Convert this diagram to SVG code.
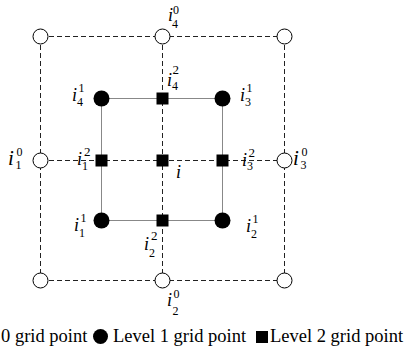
<svg xmlns="http://www.w3.org/2000/svg" width="406" height="358" viewBox="0 0 406 358">
<style>
.dash{stroke:#222;stroke-width:1;stroke-dasharray:5,3;fill:none}
.dot{stroke:#111;stroke-width:1;stroke-dasharray:1,1;fill:none}
.l0{fill:#fff;stroke:#000;stroke-width:1}
.l1{fill:#000}
.l2{fill:#000}
.i{font-family:"Liberation Serif",serif;font-style:italic;font-size:18px;fill:#000}
.big{font-size:21px}
.d{font-family:"Liberation Serif",serif;font-size:12px;fill:#000}
.db{font-size:13px}
.lg{font-family:"Liberation Serif",serif;font-size:18.5px;fill:#000}
</style>
<rect width="406" height="358" fill="#fff"/>
<g id="connectors">
<line class="dash" x1="41" y1="36.5" x2="284" y2="36.5"/>
<line class="dash" x1="41" y1="280.5" x2="284" y2="280.5"/>
<line class="dash" x1="40.5" y1="37" x2="40.5" y2="281"/>
<line class="dash" x1="284.5" y1="37" x2="284.5" y2="281"/>
<line class="dash" x1="41" y1="160.5" x2="284" y2="160.5"/>
<line class="dash" x1="162.5" y1="37" x2="162.5" y2="281"/>
<line class="dot" x1="101.5" y1="98.5" x2="222.5" y2="98.5"/>
<line class="dot" x1="101.5" y1="220.5" x2="222.5" y2="220.5"/>
<line class="dot" x1="101.5" y1="98.5" x2="101.5" y2="220.5"/>
<line class="dot" x1="222.5" y1="98.5" x2="222.5" y2="220.5"/>
</g>
<g id="n-tl"><circle class="l0" cx="40.5" cy="36.5" r="7.5"/></g>
<g id="n-i40"><circle class="l0" cx="162.5" cy="36.5" r="7.5"/><text class="i" x="168" y="21">i</text><text class="d" x="173" y="14">0</text><text class="d" x="172" y="28">4</text></g>
<g id="n-tr"><circle class="l0" cx="284.5" cy="36.5" r="7.5"/></g>
<g id="n-i10"><circle class="l0" cx="40.5" cy="160.5" r="7.5"/><text class="i big" x="8" y="165">i</text><text class="d" x="16.5" y="156">0</text><text class="d" x="15.5" y="169">1</text></g>
<g id="n-i30"><circle class="l0" cx="284.5" cy="160.5" r="7.5"/><text class="i big" x="293" y="165">i</text><text class="d" x="301.5" y="156">0</text><text class="d" x="300.5" y="169">3</text></g>
<g id="n-bl"><circle class="l0" cx="40.5" cy="280.5" r="7.5"/></g>
<g id="n-i20"><circle class="l0" cx="162.5" cy="280.5" r="7.5"/><text class="i" x="167" y="306">i</text><text class="d" x="173.5" y="298">0</text><text class="d" x="172.5" y="315">2</text></g>
<g id="n-br"><circle class="l0" cx="284.5" cy="280.5" r="7.5"/></g>
<g id="n-i41"><circle class="l1" cx="101.5" cy="98.5" r="8"/><text class="i" x="72" y="101">i</text><text class="d" x="78.5" y="92">1</text><text class="d" x="77" y="106">4</text></g>
<g id="n-i31"><circle class="l1" cx="222.5" cy="98.5" r="8"/><text class="i" x="240" y="101">i</text><text class="d" x="246.5" y="92">1</text><text class="d" x="245" y="106">3</text></g>
<g id="n-i11"><circle class="l1" cx="101.5" cy="220.5" r="8"/><text class="i" x="74" y="231">i</text><text class="d" x="80.5" y="222">1</text><text class="d" x="79" y="237">1</text></g>
<g id="n-i21"><circle class="l1" cx="222.5" cy="220.5" r="8"/><text class="i" x="246" y="232">i</text><text class="d" x="252.5" y="223">1</text><text class="d" x="251" y="238">2</text></g>
<g id="n-i42"><rect class="l2" x="156.5" y="92.5" width="12" height="12"/><text class="i" x="167" y="86">i</text><text class="d db" x="172.5" y="74">2</text><text class="d" x="172" y="90">4</text></g>
<g id="n-i12"><rect class="l2" x="95.5" y="154.5" width="12" height="12"/><text class="i" x="77" y="165">i</text><text class="d db" x="84" y="156">2</text><text class="d" x="82" y="170">1</text></g>
<g id="n-i"><rect class="l2" x="156.5" y="154.5" width="12" height="12"/><text class="i" x="176" y="178">i</text></g>
<g id="n-i32"><rect class="l2" x="216.5" y="154.5" width="12" height="12"/><text class="i" x="242" y="166">i</text><text class="d db" x="248.5" y="157">2</text><text class="d" x="247" y="170">3</text></g>
<g id="n-i22"><rect class="l2" x="156.5" y="214.5" width="12" height="12"/><text class="i" x="144" y="250">i</text><text class="d db" x="151" y="240">2</text><text class="d" x="149" y="257">2</text></g>
<g id="legend">
<text class="lg" x="1" y="342">0 grid point</text>
<circle class="l1" cx="100.5" cy="336.5" r="7.5"/>
<text class="lg" x="113" y="342">Level 1 grid point</text>
<rect class="l2" x="256" y="331" width="12" height="12"/>
<text class="lg" x="270" y="342">Level 2 grid point</text>
</g>
</svg>
